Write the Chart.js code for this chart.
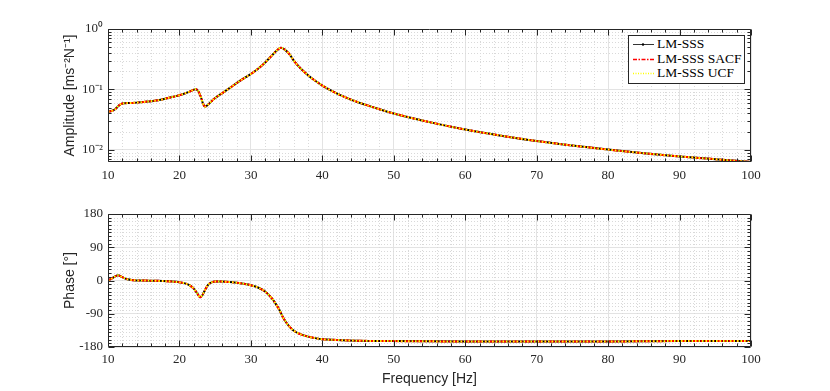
<!DOCTYPE html>
<html><head><meta charset="utf-8">
<script src="https://cdn.jsdelivr.net/npm/chart.js@4.4.0/dist/chart.umd.min.js"></script>
<style>
html,body{margin:0;padding:0;background:#fff;}
#wrap{position:relative;width:830px;height:391px;overflow:hidden;background:#fff;}
.box{position:absolute;left:0;width:830px;}
#legend{position:absolute;left:628px;top:35px;width:115px;height:47px;border:1px solid #262626;background:#fff;font-family:"Liberation Serif",serif;font-size:13.5px;color:#000;}
.row{position:absolute;left:0;height:14px;line-height:14px;}
.row svg{position:absolute;left:3px;top:0;}
.row span{position:absolute;left:28px;top:0;white-space:nowrap;}
</style></head>
<body>
<div id="wrap">
  <div class="box" style="top:0;height:195px;"><canvas id="c1"></canvas></div>
  <div class="box" style="top:195px;height:196px;"><canvas id="c2"></canvas></div>
  <div id="legend"></div>
</div>
<script>
// ---- data ----
const seriesNames = ['LM-SSS', 'LM-SSS SACF', 'LM-SSS UCF'];
const freqAmp = [10,10.5,11,11.5,12,13,14,15,16,17,18,19,20,21,21.5,22,22.3,22.6,23,23.3,23.6,24,24.5,25,26,27,28,29,30,31,32,33,33.7,34.2,34.7,35.5,36,37,38,39,40,41,42,44,46,48,50,55,60,65,70,75,80,85,90,95,100];
const ampLMSSS = [0.043,0.044,0.047,0.054,0.0585,0.0595,0.0605,0.062,0.064,0.066,0.070,0.075,0.080,0.088,0.093,0.099,0.101,0.095,0.075,0.058,0.052,0.056,0.064,0.072,0.087,0.105,0.127,0.152,0.18,0.22,0.28,0.37,0.45,0.49,0.46,0.37,0.30,0.22,0.172,0.139,0.116,0.099,0.086,0.068,0.056,0.047,0.040,0.0288,0.0217,0.0172,0.0140,0.0118,0.0101,0.0088,0.0078,0.0070,0.0063];
const ampSACF = ampLMSSS; // curves coincide in the reference
const ampUCF = ampLMSSS;
const freqPhase = [10,10.5,11,11.4,12,12.6,13.5,15,17,19,20,21,21.5,22,22.5,22.9,23.2,23.6,24,24.5,25,26,27,28,29,30,31,32,33,33.5,34,34.5,35,35.5,36,37,38,39,40,42,45,50,60,70,80,90,100];
const phaseLMSSS = [0,5,11,14,9,4,1,0,-1,-3,-5,-9,-14,-22,-35,-45,-40,-25,-12,-5,-3,-3,-4,-6,-9,-13,-19,-30,-50,-64,-80,-100,-115,-127,-136,-146,-152,-156,-159,-161,-163,-164,-165,-165,-165,-164,-164];
const phaseSACF = phaseLMSSS;
const phaseUCF = phaseLMSSS;
const xTicks = [10,20,30,40,50,60,70,80,90,100];
const ampTicks = [0.01, 0.1, 1];
const ampTickLabels = ['10\u207B\u00B2', '10\u207B\u00B9', '10\u2070'];
const phaseTicks = [-180,-90,0,90,180];

// ---- styling ----
const serif = '"Liberation Serif", "Times New Roman", serif';
const sans = '"Liberation Sans", Arial, sans-serif';
const styles = [
  {color:'#000000', dash:[], order:2},
  {color:'#ff0000', dash:[6,2,2,2], order:1},
  {color:'#ffff00', dash:[1.5,2], order:0}
];
function pts(xs, ys){ return xs.map((x,i)=>({x:x, y:ys[i]})); }
function makeSets(xs, arrs){
  return arrs.map((ys,i)=>({
    label: seriesNames[i], data: pts(xs, ys),
    borderColor: styles[i].color, backgroundColor: styles[i].color,
    borderWidth: 2, borderDash: styles[i].dash, pointRadius: 0,
    cubicInterpolationMode: 'monotone', order: styles[i].order, fill:false
  }));
}
const xMinor = []; for (let v=12; v<100; v+=2) if (v%10) xMinor.push(v);
const logMinor = []; [0.001,0.01,0.1].forEach(d=>{for(let k=2;k<=9;k++) logMinor.push(d*k);});
const phMinor = []; for (let v=-170; v<180; v+=10) if (v%90) phMinor.push(v);

const matlabAxes = {
  id:'matlabAxes',
  beforeDatasetsDraw(chart, args, o){
    const {ctx, chartArea:a, scales:{x,y}} = chart;
    ctx.save();
    ctx.strokeStyle = '#d9d9d9'; ctx.lineWidth = 1; ctx.setLineDash([1,2]);
    ctx.beginPath();
    o.xMinor.forEach(v=>{const p=Math.round(x.getPixelForValue(v))+0.5; ctx.moveTo(p,a.top); ctx.lineTo(p,a.bottom);});
    o.yMinor.forEach(v=>{const p=y.getPixelForValue(v); if(p<a.top||p>a.bottom) return; const q=Math.round(p)+0.5; ctx.moveTo(a.left,q); ctx.lineTo(a.right,q);});
    ctx.stroke();
    ctx.restore();
  },
  afterDatasetsDraw(chart, args, o){
    const {ctx, chartArea:a, scales:{x,y}} = chart;
    ctx.save();
    ctx.setLineDash([]);
    ctx.strokeStyle = '#262626'; ctx.lineWidth = 1;
    ctx.beginPath();
    const L=Math.round(a.left)+0.5, R=Math.round(a.right)-0.5, T=Math.round(a.top)+0.5, B=Math.round(a.bottom)-0.5;
    ctx.rect(L,T,R-L,B-T);
    const tx = (vals, len)=>vals.forEach(v=>{const p=Math.round(x.getPixelForValue(v))+0.5; ctx.moveTo(p,B); ctx.lineTo(p,B-len); ctx.moveTo(p,T); ctx.lineTo(p,T+len);});
    const ty = (vals, len)=>vals.forEach(v=>{const p0=y.getPixelForValue(v); if(p0<a.top-0.5||p0>a.bottom+0.5) return; const p=Math.round(p0)+0.5; ctx.moveTo(L,p); ctx.lineTo(L+len,p); ctx.moveTo(R,p); ctx.lineTo(R-len,p);});
    tx(o.xMajor,6); tx(o.xMinor,3); ty(o.yMajor,6); ty(o.yMinor,3);
    ctx.stroke();
    ctx.restore();
  }
};

const tickFont = {family: serif, size: 13};
const titleFont = {family: sans, size: 14};

function xScale(showTitle, pad, h){
  return {
    type:'linear', min:10, max:100,
    afterBuildTicks: s=>{ s.ticks = xTicks.map(v=>({value:v})); },
    afterFit: s=>{ s.height = h; },
    ticks:{font:tickFont, color:'#262626', padding:pad, maxRotation:0, autoSkip:false, callback:v=>String(v)},
    grid:{color:'#e3e3e3', drawTicks:false, lineWidth:1},
    border:{display:false},
    title:{display:showTitle, text:'Frequency [Hz]', font:titleFont, color:'#262626', padding:{top:0,bottom:3}}
  };
}

new Chart(document.getElementById('c1'), {
  type:'line',
  data:{datasets: makeSets(freqAmp, [ampLMSSS, ampSACF, ampUCF])},
  options:{
    responsive:true, maintainAspectRatio:false, animation:false,
    layout:{padding:{top:29, right:79, left:58, bottom:0}},
    plugins:{legend:{display:false}, tooltip:{enabled:false},
      matlabAxes:{xMajor:xTicks, xMinor:xMinor, yMajor:ampTicks, yMinor:logMinor}},
    scales:{
      x: xScale(false, 6, 33),
      y: {
        type:'logarithmic', min:0.0063, max:1,
        afterBuildTicks: s=>{ s.ticks = ampTicks.map(v=>({value:v})); },
        afterFit: s=>{ s.width = 50; },
        ticks:{font:tickFont, color:'#262626', padding:5, callback:(v)=>{const i=ampTicks.indexOf(v); return i>=0?ampTickLabels[i]:'';}},
        grid:{color:'#e3e3e3', drawTicks:false},
        border:{display:false},
        title:{display:true, text:'Amplitude [ms\u207B\u00B2N\u207B\u00B9]', font:titleFont, color:'#262626', padding:{top:4,bottom:0}}
      }
    }
  },
  plugins:[matlabAxes]
});

new Chart(document.getElementById('c2'), {
  type:'line',
  data:{datasets: makeSets(freqPhase, [phaseLMSSS, phaseSACF, phaseUCF])},
  options:{
    responsive:true, maintainAspectRatio:false, animation:false,
    layout:{padding:{top:19, right:79, left:58, bottom:0}},
    plugins:{legend:{display:false}, tooltip:{enabled:false},
      matlabAxes:{xMajor:xTicks, xMinor:xMinor, yMajor:phaseTicks, yMinor:phMinor}},
    scales:{
      x: xScale(true, 5, 44),
      y: {
        type:'linear', min:-180, max:180,
        afterBuildTicks: s=>{ s.ticks = phaseTicks.map(v=>({value:v})); },
        afterFit: s=>{ s.width = 50; },
        ticks:{font:tickFont, color:'#262626', padding:5, callback:v=>String(v)},
        grid:{color:'#e3e3e3', drawTicks:false},
        border:{display:false},
        title:{display:true, text:'Phase [\u00B0]', font:titleFont, color:'#262626', padding:{top:4,bottom:0}}
      }
    }
  },
  plugins:[matlabAxes]
});

// ---- legend (HTML, labels from seriesNames) ----
const lg = document.getElementById('legend');
const rowTops = [1, 16, 30];
seriesNames.forEach((name,i)=>{
  const r = document.createElement('div'); r.className='row'; r.style.top = rowTops[i]+'px';
  const dash = styles[i].dash.length ? `stroke-dasharray="${i===1?'4,1.5,1.5,1.5':'1,1.5'}"` : '';
  const dot = i===0 ? '<circle cx="11" cy="7.5" r="1.2" fill="#000"/>' : '';
  r.innerHTML = `<svg width="23" height="14"><line x1="1" y1="7.5" x2="22" y2="7.5" stroke="${styles[i].color}" stroke-width="${i===0?0.8:1.3}" ${dash}/>${dot}</svg><span>${name}</span>`;
  lg.appendChild(r);
});
</script>
</body></html>
